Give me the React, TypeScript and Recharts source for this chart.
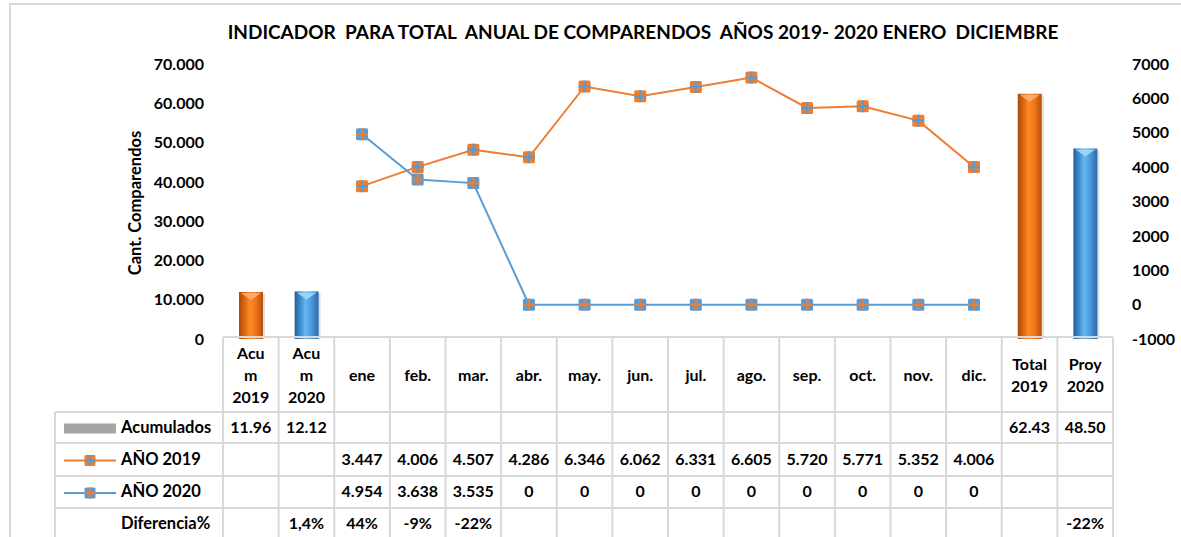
import React from 'react';
import { ComposedChart, Bar, Line, XAxis, YAxis, Cell } from 'recharts';

// categories (header row of the data table)
const categories = [
  'Acu\nm\n2019', 'Acu\nm\n2020', 'ene', 'feb.', 'mar.', 'abr.', 'may.', 'jun.',
  'jul.', 'ago.', 'sep.', 'oct.', 'nov.', 'dic.', 'Total\n2019', 'Proy\n2020',
];
// bars, left axis
const acumulados = [11.96, 12.12, null, null, null, null, null, null, null, null, null, null, null, null, 62.43, 48.5];
const acumColors = ['orange', 'blue', '', '', '', '', '', '', '', '', '', '', '', '', 'orange', 'blue'];
// lines, right axis
const anio2019 = [null, null, 3447, 4006, 4507, 4286, 6346, 6062, 6331, 6605, 5720, 5771, 5352, 4006, null, null];
const anio2020 = [null, null, 4954, 3638, 3535, 0, 0, 0, 0, 0, 0, 0, 0, 0, null, null];
const diferencia = ['', '1,4%', '44%', '-9%', '-22%', '', '', '', '', '', '', '', '', '', '', '-22%'];

const leftTicks = [0, 10, 20, 30, 40, 50, 60, 70];
const rightTicks = [-1000, 0, 1000, 2000, 3000, 4000, 5000, 6000, 7000];

const ORANGE = '#ED7D31';
const BLUE = '#5B9BD5';
const GRID = '#d9d9d9';
const FONT = 'Lato, "Open Sans", sans-serif';
const FS = 16;

const data = categories.map((c, i) => ({
  cat: c,
  acum: acumulados[i],
  color: acumColors[i],
  y2019: anio2019[i],
  y2020: anio2020[i],
}));

// layout
const W = 1181;
const CH_H = 365;
const PLOT_L = 223;
const PLOT_R = 1113;
const colW = (PLOT_R - PLOT_L) / categories.length;
const LABEL_L = 55;
const rowY = [337, 412, 443, 476, 508, 540];

const fmtThousands = (v: number | null) => {
  if (v === null || v === undefined) return '';
  const s = String(Math.round(v));
  return s.replace(/\B(?=(\d{3})+(?!\d))/g, '.');
};

const PALETTE: Record<string, string[]> = {
  orange: ['#a94a0b', '#e0690f', '#ff8a26', '#f07418', '#b5500c', '#fbb27a'],
  blue: ['#25609a', '#3f8ed0', '#66b6f0', '#4a9ade', '#2c6aa6', '#a5dcfa'],
};

const GlossyBar = (props: any) => {
  const { x, y, width, height, payload } = props;
  if (!height || height <= 0) return null;
  const key = (payload && payload.color) || 'orange';
  const p = PALETTE[key];
  const id = `barg-${categories.indexOf(payload.cat)}`;
  const cap = Math.min(8, width / 3);
  return (
    <g>
      <defs>
        <linearGradient id={id} x1="0" y1="0" x2="1" y2="0">
          <stop offset="0%" stopColor={p[0]} />
          <stop offset="25%" stopColor={p[1]} />
          <stop offset="45%" stopColor={p[2]} />
          <stop offset="70%" stopColor={p[3]} />
          <stop offset="100%" stopColor={p[4]} />
        </linearGradient>
      </defs>
      <rect x={x + 2} y={y + 2} width={width} height={height - 2} fill="#000" opacity={0.12} />
      <rect x={x} y={y} width={width} height={height} fill={`url(#${id})`} />
      <polygon
        points={`${x + 2},${y + 1} ${x + width - 2},${y + 1} ${x + width / 2},${y + cap}`}
        fill={p[5]}
        opacity={0.85}
      />
    </g>
  );
};

const CrossDot = (fill: string, cross: string, size = 12) => (props: any) => {
  const { cx, cy, index, value } = props;
  if (cx == null || cy == null || value == null) return <g key={index} />;
  const h = size / 2;
  return (
    <g key={index}>
      <rect x={cx - h} y={cy - h} width={size} height={size} rx={1.5} fill={fill} />
      <line x1={cx} y1={cy - h} x2={cx} y2={cy + h} stroke={cross} strokeWidth={2.2} />
      <line x1={cx - h} y1={cy} x2={cx + h} y2={cy} stroke={cross} strokeWidth={2.2} />
    </g>
  );
};

const textStyle = { fontFamily: FONT, fontWeight: 700, fontSize: FS, fill: '#000' } as const;

const LegendKey = ({ kind, y }: { kind: string; y: number }) => {
  if (kind === 'bar') return <rect x={64} y={y - 5} width={52} height={10} fill="#a5a5a5" />;
  const line = kind === '2019' ? ORANGE : BLUE;
  const other = kind === '2019' ? BLUE : ORANGE;
  return (
    <g>
      <line x1={64} y1={y} x2={116} y2={y} stroke={line} strokeWidth={2} />
      {CrossDot(line, other, 11)({ cx: 90, cy: y, index: 0, value: 1 })}
    </g>
  );
};

const DataTable = () => {
  const rows = [
    { label: 'Acumulados', key: 'bar', values: acumulados.map((v) => (v == null ? '' : v.toFixed(2))) },
    { label: 'AÑO 2019', key: '2019', values: anio2019.map(fmtThousands) },
    { label: 'AÑO 2020', key: '2020', values: anio2020.map(fmtThousands) },
    { label: 'Diferencia%', key: '', values: diferencia },
  ];
  const colX = (i: number) => PLOT_L + i * colW;
  return (
    <g>
      {/* horizontal lines */}
      <line x1={PLOT_L} y1={rowY[0]} x2={PLOT_R} y2={rowY[0]} stroke={GRID} strokeWidth={2} />
      {rowY.slice(1).map((y, i) => (
        <line key={`h${i}`} x1={LABEL_L} y1={y} x2={PLOT_R} y2={y} stroke={GRID} strokeWidth={2} />
      ))}
      {/* vertical lines */}
      <line x1={LABEL_L} y1={rowY[1]} x2={LABEL_L} y2={rowY[5]} stroke={GRID} strokeWidth={2} />
      {categories.map((_, i) => (
        <line key={`v${i}`} x1={colX(i)} y1={rowY[0]} x2={colX(i)} y2={rowY[5]} stroke={GRID} strokeWidth={2} />
      ))}
      <line x1={PLOT_R} y1={rowY[0]} x2={PLOT_R} y2={rowY[5]} stroke={GRID} strokeWidth={2} />
      {/* header */}
      {categories.map((c, i) => {
        const lines = c.split('\n');
        const mid = (rowY[0] + rowY[1]) / 2 + 2;
        return (
          <text key={`c${i}`} textAnchor="middle" style={textStyle}>
            {lines.map((l, j) => (
              <tspan key={j} x={colX(i) + colW / 2} y={mid + (j - (lines.length - 1) / 2) * 22} dominantBaseline="middle">
                {l}
              </tspan>
            ))}
          </text>
        );
      })}
      {/* rows */}
      {rows.map((r, ri) => {
        const cy = (rowY[ri + 1] + rowY[ri + 2]) / 2 + 1;
        return (
          <g key={r.label}>
            {r.key && <LegendKey kind={r.key} y={cy} />}
            <text x={121} y={cy} dominantBaseline="middle" style={{ ...textStyle, fontSize: 16.5 }}>{r.label}</text>
            {r.values.map((v, i) => (
              <text key={i} x={colX(i) + colW / 2} y={cy} textAnchor="middle" dominantBaseline="middle" style={textStyle}>
                {v}
              </text>
            ))}
          </g>
        );
      })}
    </g>
  );
};

export default function App() {
  return (
    <div style={{ position: 'relative', width: W, height: 537, overflow: 'hidden', background: '#fff' }}>
      <style>{'body{margin:0}'}</style>
      <div
        style={{
          position: 'absolute', left: 9, top: 3, width: 1300, height: 700,
          borderLeft: `2px solid ${GRID}`, borderTop: `2px solid ${GRID}`,
        }}
      />
      <div style={{ position: 'absolute', left: 0, top: 0 }}>
        <ComposedChart width={W} height={CH_H} data={data} margin={{ top: 64, right: 8, bottom: CH_H - 339, left: 163 }}>
          <XAxis dataKey="cat" hide />
          <YAxis
            yAxisId="left"
            width={60}
            domain={[0, 70]}
            ticks={leftTicks}
            interval={0}
            axisLine={false}
            tickLine={false}
            tickSize={0}
            tickMargin={19}
            tickFormatter={(v: number) => (v === 0 ? '0' : v.toFixed(3))}
            tick={{ ...textStyle }}
          />
          <YAxis
            yAxisId="right"
            orientation="right"
            width={60}
            domain={[-1000, 7000]}
            ticks={rightTicks}
            interval={0}
            axisLine={false}
            tickLine={false}
            tickSize={0}
            tickMargin={19}
            tick={{ ...textStyle }}
          />
          <Bar yAxisId="left" dataKey="acum" barSize={24} shape={<GlossyBar />} isAnimationActive={false}>
            {data.map((d, i) => (
              <Cell key={i} fill={d.color === 'blue' ? BLUE : ORANGE} />
            ))}
          </Bar>
          <Line
            yAxisId="right"
            dataKey="y2019"
            stroke={ORANGE}
            strokeWidth={2}
            dot={CrossDot(ORANGE, BLUE)}
            activeDot={false}
            isAnimationActive={false}
          />
          <Line
            yAxisId="right"
            dataKey="y2020"
            stroke={BLUE}
            strokeWidth={2}
            dot={CrossDot(BLUE, ORANGE)}
            activeDot={false}
            isAnimationActive={false}
          />
        </ComposedChart>
      </div>
      <svg width={W} height={537} style={{ position: 'absolute', left: 0, top: 0, pointerEvents: 'none' }}>
        <text x={643} y={39} textAnchor="middle" style={{ ...textStyle, fontSize: 19, whiteSpace: 'pre' }}>
          INDICADOR  PARA TOTAL  ANUAL DE COMPARENDOS  AÑOS 2019- 2020 ENERO  DICIEMBRE
        </text>
        <text
          transform="translate(137,203) rotate(-90)"
          textAnchor="middle"
          dominantBaseline="middle"
          style={{ ...textStyle, fontSize: 16.5 }}
        >
          Cant. Comparendos
        </text>
        <DataTable />
      </svg>
    </div>
  );
}
